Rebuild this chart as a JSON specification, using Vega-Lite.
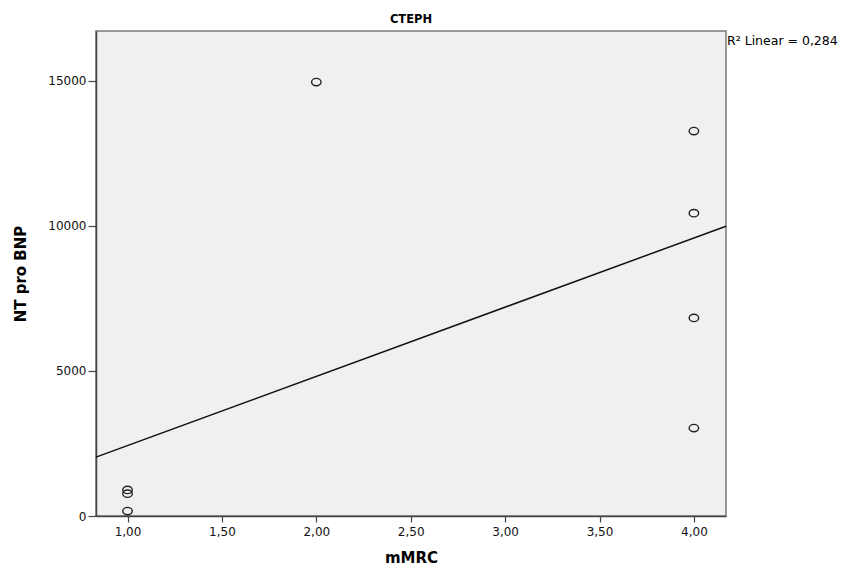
{
  "$schema": "https://vega.github.io/schema/vega-lite/v6.json",
  "autosize": {"type": "none"},
  "padding": {"left": 96, "top": 31, "right": 116, "bottom": 51},
  "width": 630,
  "height": 485,
  "background": "white",
  "title": {"text": "CTEPH", "fontSize": 11.5, "fontWeight": "bold", "font": "DejaVu Sans", "color": "#000000", "offset": 6},
  "config": {
    "view": {"fill": "#f0f0f0", "stroke": "#7a7a7a", "strokeWidth": 1.5},
    "axis": {"labelFont": "DejaVu Sans", "labelFontSize": 12, "labelColor": "#111111", "titleFont": "DejaVu Sans", "titleFontWeight": "bold", "titleColor": "#000000", "domainColor": "#444444", "domainWidth": 1.5, "tickColor": "#444444", "tickWidth": 1.2, "grid": false}
  },
  "datasets": {
    "pts": [
      {"mMRC": 1, "NTproBNP": 900},
      {"mMRC": 1, "NTproBNP": 770},
      {"mMRC": 1, "NTproBNP": 170},
      {"mMRC": 2, "NTproBNP": 14960},
      {"mMRC": 4, "NTproBNP": 13270},
      {"mMRC": 4, "NTproBNP": 10440},
      {"mMRC": 4, "NTproBNP": 6830},
      {"mMRC": 4, "NTproBNP": 3030}
    ],
    "fit": [
      {"mMRC": 0.833, "NTproBNP": 2030},
      {"mMRC": 4.17, "NTproBNP": 9990}
    ],
    "note": [
      {"mMRC": 4.17, "NTproBNP": 16380, "label": "R² Linear = 0,284"}
    ]
  },
  "layer": [
    {
      "data": {"name": "fit"},
      "mark": {"type": "line", "color": "#111111", "strokeWidth": 1.5},
      "encoding": {
        "x": {"field": "mMRC", "type": "quantitative", "scale": {"domain": [0.833, 4.17], "nice": false, "zero": false},
          "axis": {"title": "mMRC", "titleFontSize": 15, "values": [1, 1.5, 2, 2.5, 3, 3.5, 4], "labelExpr": "replace(format(datum.value, '.2f'), '.', ',')", "tickSize": 6, "labelPadding": 4, "titlePadding": 13}},
        "y": {"field": "NTproBNP", "type": "quantitative", "scale": {"domain": [0, 16720], "nice": false},
          "axis": {"title": "NT pro BNP", "titleFontSize": 15, "values": [0, 5000, 10000, 15000], "format": "d", "tickSize": 8, "labelPadding": 2, "titlePadding": 19}}
      }
    },
    {
      "data": {"name": "pts"},
      "mark": {"type": "point", "shape": "M -1,0 A 1,0.78 0 1,0 1,0 A 1,0.78 0 1,0 -1,0 Z", "filled": false, "stroke": "#222222", "strokeWidth": 1.4, "size": 90, "opacity": 1},
      "encoding": {
        "x": {"field": "mMRC", "type": "quantitative"},
        "y": {"field": "NTproBNP", "type": "quantitative"}
      }
    },
    {
      "data": {"name": "note"},
      "mark": {"type": "text", "align": "left", "baseline": "middle", "dx": 1, "font": "DejaVu Sans", "fontSize": 12.5, "color": "#000000", "clip": false},
      "encoding": {
        "x": {"field": "mMRC", "type": "quantitative"},
        "y": {"field": "NTproBNP", "type": "quantitative"},
        "text": {"field": "label"}
      }
    }
  ]
}
